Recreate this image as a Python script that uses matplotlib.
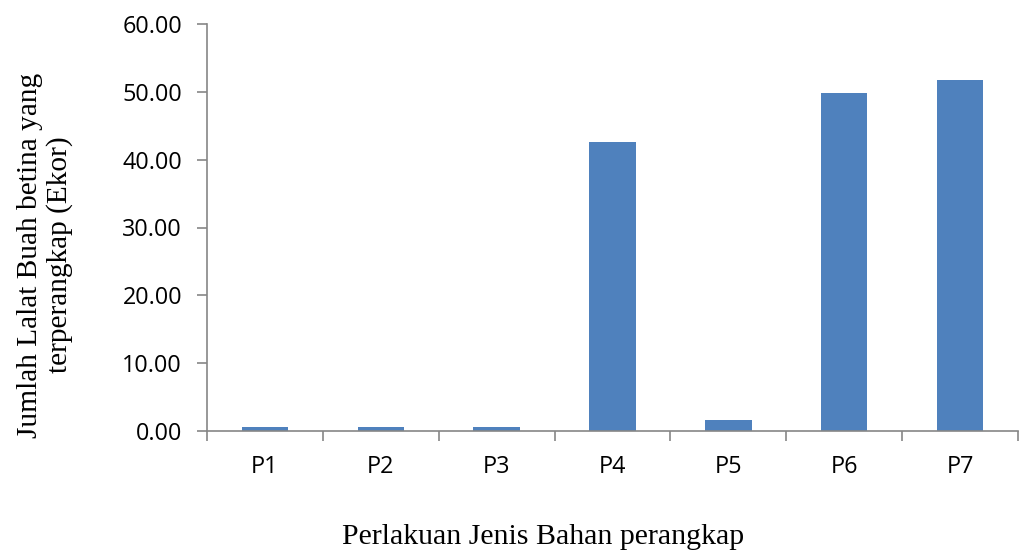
import matplotlib
matplotlib.use("Agg")
import matplotlib.pyplot as plt
import numpy as np

categories = ["P1", "P2", "P3", "P4", "P5", "P6", "P7"]
values = [0.6, 0.6, 0.6, 42.6, 1.6, 49.8, 51.8]
yticks = [0, 10, 20, 30, 40, 50, 60]

bar_color = "#4F81BD"
axis_color = "#868686"

fig = plt.figure(figsize=(10.19, 5.52), dpi=100)
ax = fig.add_axes([207/1019, 121/552, (1018-207)/1019, (431-24)/552])

x = np.arange(len(categories))
ax.bar(x, values, width=0.4, color=bar_color, zorder=2)
ax.set_xlim(-0.5, len(categories) - 0.5)
ax.set_ylim(0, 60)
ax.set_yticks(yticks)
ax.set_yticklabels([f"{v:.2f}" for v in yticks], fontsize=16.8, family="Open Sans")
ax.set_xticks(x)
ax.set_xticklabels(categories, fontsize=16.8, family="Open Sans")
ax.set_xticks(np.arange(len(categories) + 1) - 0.5, minor=True)
ax.tick_params(axis="x", which="major", length=0, pad=17)
ax.tick_params(axis="x", which="minor", length=7, color=axis_color, width=1.2)
ax.tick_params(axis="y", length=7, color=axis_color, width=1.2, pad=11)

for s in ["top", "right"]:
    ax.spines[s].set_visible(False)
for s in ["left", "bottom"]:
    ax.spines[s].set_color(axis_color)
    ax.spines[s].set_linewidth(1.2)

fig.text(543/1019, 1 - 537/552, "Perlakuan Jenis Bahan perangkap",
         ha="center", va="center", fontsize=21.5, family="Liberation Serif")
fig.text(45/1019, 1 - 255/552, "Jumlah Lalat Buah betina yang\nterperangkap (Ekor)",
         ha="center", va="center", rotation=90, fontsize=21.2, family="Liberation Serif",
         multialignment="center", linespacing=1.12)

fig.savefig("out.png", dpi=100)
